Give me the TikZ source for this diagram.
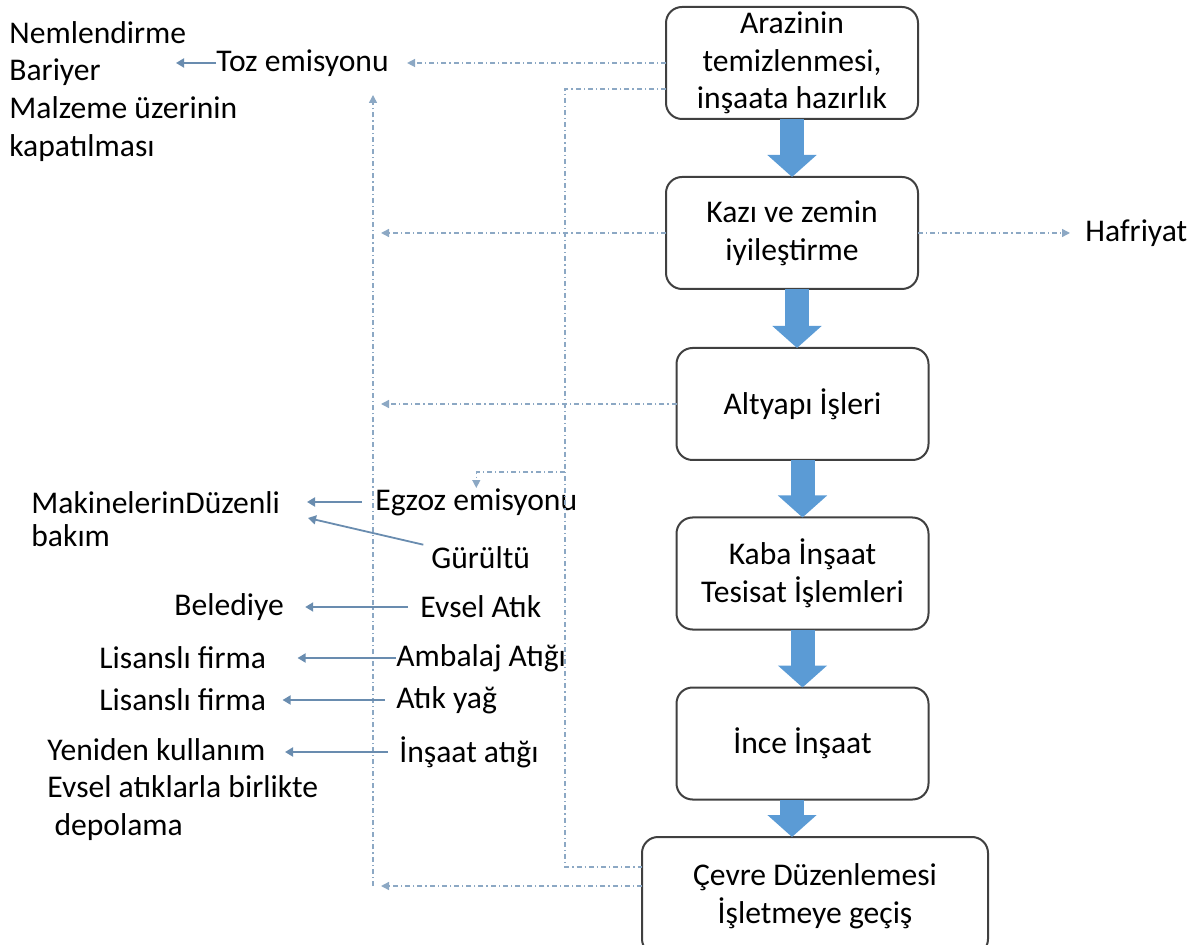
\documentclass[tikz,border=0pt]{standalone}
\usepackage{fontspec}
\setmainfont{Carlito}
\usepackage{tikz}
\usetikzlibrary{arrows.meta, positioning}
\usepackage{xcolor}
\definecolor{stepblue}{RGB}{91,155,213}
\definecolor{flowblue}{RGB}{140,168,196}
\definecolor{sideblue}{RGB}{105,140,175}
\newcommand{\diafont}{\fontsize{15.8}{18.8}\selectfont}
\tikzset{
    stage/.style={rectangle, rounded corners=8pt, draw=black!75, line width=1pt, outer sep=0pt, fill=white, align=center, minimum width=126pt, minimum height=56pt, inner sep=1pt, font=\diafont},
    sidetext/.style={inner sep=0pt, align=left, font=\diafont},
    bigarrow/.style={line width=12pt, draw=stepblue, -{Triangle[width=24pt, length=11pt]}},
    flow/.style={draw=flowblue, line width=0.7pt, dash pattern=on 2.5pt off 1.5pt on 0.6pt off 1.5pt},
    flowarrow/.style={flow, -{Triangle[width=4pt, length=4pt]}},
    sidearrow/.style={draw=sideblue, line width=0.9pt, -{Triangle[width=4.5pt, length=4pt]}}
}

\begin{document}
\begin{tikzpicture}[x=0.5pt, y=-0.5pt, node distance=29pt]
    \useasboundingbox (0,0) rectangle (1203,945);
    % Stages
    \node (arazi) [stage] at (792,63) {Arazinin\\temizlenmesi,\\inşaata hazırlık};
    \node (kazi) [stage, below=of arazi] {Kazı ve zemin\\iyileştirme};
    \node (altyapi) [stage, below=29.5pt of kazi, xshift=5.25pt] {Altyapı İşleri};
    \node (kaba) [stage, below=28.75pt of altyapi] {Kaba İnşaat\\Tesisat İşlemleri};
    \node (ince) [stage, below=of kaba] {İnce İnşaat};
    \node (cevre) [stage, below=18.75pt of ince, xshift=6.25pt, minimum width=173pt, minimum height=59pt] {Çevre Düzenlemesi\\İşletmeye geçiş};
    % Emissions and measures
    \node (toz) [sidetext, anchor=west] at (216,63) {Toz emisyonu};
    \node (nem) [sidetext, anchor=north west] at (9,21) {Nemlendirme\\Bariyer\\Malzeme üzerinin\\kapatılması};
    \node (hafriyat) [sidetext, anchor=west] at (1085,233) {Hafriyat};
    \node (egzoz) [sidetext, anchor=west] at (375,502) {Egzoz emisyonu};
    \node (makine) [sidetext, anchor=north west] at (31,491) {MakinelerinDüzenli\\[-2pt]bakım};
    \node (gurultu) [sidetext, anchor=west] at (431,558) {Gürültü};
    \node (evsel) [sidetext, anchor=west] at (420,607) {Evsel Atık};
    \node (belediye) [sidetext, anchor=west] at (174,607) {Belediye};
    \node (ambalaj) [sidetext, anchor=west] at (396,658) {Ambalaj Atığı};
    \node (lisans1) [sidetext, anchor=west] at (99,658) {Lisanslı firma};
    \node (atikyag) [sidetext, anchor=west] at (396,700) {Atık yağ};
    \node (lisans2) [sidetext, anchor=west] at (99,700) {Lisanslı firma};
    \node (insaat) [sidetext, anchor=west] at (399,752) {İnşaat atığı};
    \node (yeniden) [sidetext, anchor=north west] at (47,738) {Yeniden kullanım\\Evsel atıklarla birlikte\\\ depolama};
    % Rails and arrow ends
    \coordinate (rail) at (373,0);
    \coordinate (midrail) at (565,0);
    \coordinate (railtop) at (373,95);
    \coordinate (branch) at (565,472);
    \coordinate (nemtip) at (176,63);
    \coordinate (makinetip) at (307,502);
    \coordinate (gurultutip) at (308,518);
    \coordinate (yenidentip) at (285,752);
    \coordinate (railfoot) at ([yshift=5pt]cevre.west -| rail);
    % Stage arrows
    \draw [bigarrow] (arazi) -- (kazi);
    \draw [bigarrow] ([xshift=2.5pt]kazi.south) -- ([xshift=-2.75pt]altyapi.north);
    \draw [bigarrow] (altyapi) -- (kaba);
    \draw [bigarrow] (kaba) -- (ince);
    \draw [bigarrow] ([xshift=-5.25pt]ince.south) -- ([xshift=-11.5pt]cevre.north);
    % Dotted flows
    \draw [flowarrow, shorten >=9pt] (arazi.west) -- (toz);
    \draw [flowarrow] (kazi.west) -- ([xshift=4pt]kazi.west -| rail);
    \draw [flowarrow] (altyapi.west) -- ([xshift=4pt]altyapi.west -| rail);
    \draw [flowarrow] ([yshift=5pt]cevre.west) -- ([xshift=4pt]railfoot);
    \draw [flowarrow] (railfoot) -- (railtop);
    \draw [flowarrow, shorten >=7.5pt] (kazi.east) -- (hafriyat.west);
    \draw [flow] ([yshift=-13pt]arazi.west) -| ([yshift=14.5pt]cevre.west -| midrail) -- ([yshift=14.5pt]cevre.west);
    \draw [flowarrow] (branch) -| (egzoz.north);
    % Measures
    \draw [sidearrow] (toz) -- (nemtip);
    \draw [sidearrow, shorten <=6.5pt] (egzoz) -- (makinetip);
    \draw [sidearrow, shorten <=4pt] (gurultu) -- (gurultutip);
    \draw [sidearrow, shorten <=6pt, shorten >=10.5pt] (evsel) -- (belediye);
    \draw [sidearrow, shorten >=15.5pt] (ambalaj) -- (lisans1);
    \draw [sidearrow, shorten <=5.5pt, shorten >=8pt] (atikyag) -- (lisans2);
    \draw [sidearrow, shorten <=5.5pt] (insaat) -- (yenidentip);
\end{tikzpicture}
\end{document}
